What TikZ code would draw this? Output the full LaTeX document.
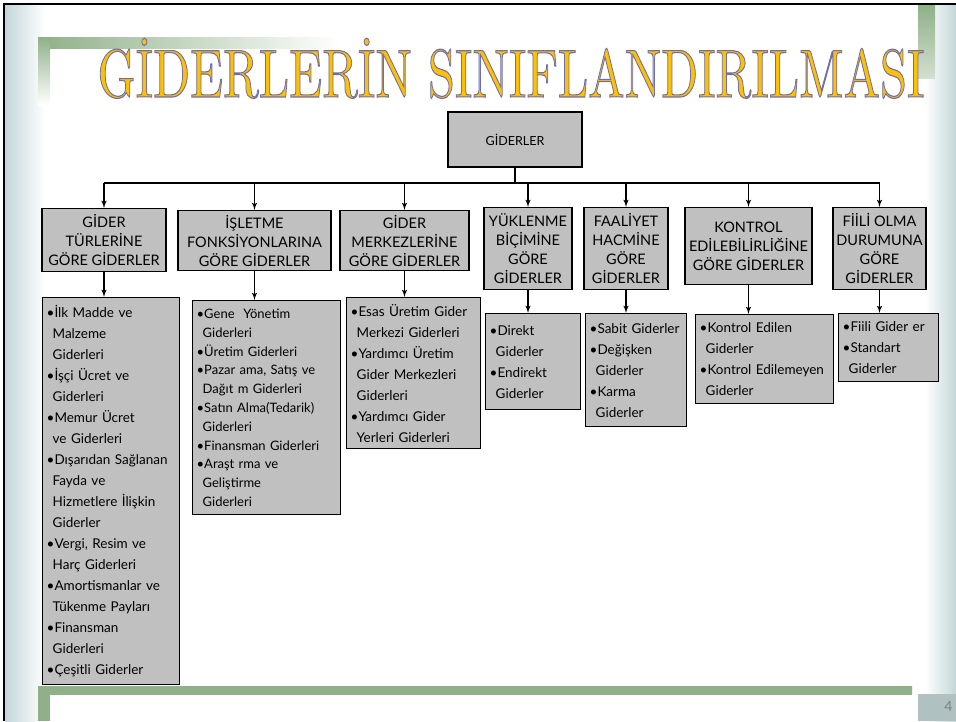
\documentclass[tikz,border=0pt]{standalone}
\usepackage{fontspec}
\setmainfont{Lato}
\newfontfamily\titlefont{lmroman10-regular.otf}
\usetikzlibrary{arrows}
\definecolor{boxgray}{RGB}{192,192,192}
\definecolor{sage}{RGB}{143,176,136}
\definecolor{strip}{RGB}{196,214,216}
\definecolor{titlegold}{RGB}{255,192,0}
\newcommand{\ind}{\hspace*{6pt}}
\newcommand{\titletext}{\resizebox{827pt}{\height}{GİDERLERİN SINIFLANDIRILMASI}}
% fill and stroke the title glyphs
\newcommand{\outlineon}{\special{pdf:literal direct 2 Tr 1.1 w 0.43 0.43 0.67 RG}}
\newcommand{\outlineoff}{\special{pdf:literal direct 0 Tr}}

\begin{document}
\begin{tikzpicture}[x=1pt,y=-1pt]
            \tikzset{box/.style = {shape=rectangle,draw,line width=1.4pt,fill=boxgray,inner sep=2pt}}
            \tikzset{headbox/.style = {box,anchor=north,align=center,font=\fontsize{14.5}{19}\selectfont}}
            \tikzset{listbox/.style = {box,anchor=north west,align=left,inner xsep=4pt,font=\fontsize{13.5}{21}\selectfont}}
            \tikzset{edge/.style = {->,> = latex',line width=1.5pt}}
            \useasboundingbox (0,0) rectangle (956,721);
            % slide template
            \fill[white] (0,0) rectangle (956,721);
            \shade[left color=strip,right color=white] (5,5) rectangle (45,721);
            \shade[left color=white,right color=strip] (925,5) rectangle (956,721);
            \shade[left color=sage,right color=white] (38,37) rectangle (340,48);
            \shade[top color=sage,bottom color=white] (38,37) rectangle (50,105);
            \shade[top color=sage,bottom color=white!60!sage] (918,5) rectangle (935,78);
            \shade[left color=sage,middle color=white!70!sage,right color=sage] (38,686) rectangle (912,694);
            \fill[sage] (38,686) rectangle (50,721);
            \fill[strip!90!black] (918,694) rectangle (956,721);
            \draw[line width=2pt] (4,721) -- (4,4) -- (956,4);
            \node[text=gray,font=\fontsize{14}{14}\selectfont,anchor=east] (pagenum) at (956,706) {4};

            % title
            \node[text=titlegold,anchor=base,inner sep=0pt,font=\titlefont\fontsize{68}{68}\selectfont] (title) at (511,97) {\outlineon\titletext\outlineoff};

            \node[box,minimum width=134pt,minimum height=55pt,font=\fontsize{12.5}{15}\selectfont] (top) at (515,139.5) {GİDERLER};

            \node[headbox,minimum width=124pt,minimum height=63pt] (h1) at (104,208) {GİDER\\TÜRLERİNE\\GÖRE GİDERLER};
            \node[headbox,minimum width=153pt,minimum height=60pt] (h2) at (254.5,210) {İŞLETME\\FONKSİYONLARINA\\GÖRE GİDERLER};
            \node[headbox,minimum width=129pt,minimum height=60pt] (h3) at (404.5,210) {GİDER\\MERKEZLERİNE\\GÖRE GİDERLER};
            \node[headbox,minimum width=88pt,minimum height=82pt] (h4) at (528,207) {YÜKLENME\\BİÇİMİNE\\GÖRE\\GİDERLER};
            \node[headbox,minimum width=84pt,minimum height=82pt] (h5) at (626,207) {FAALİYET\\HACMİNE\\GÖRE\\GİDERLER};
            \node[headbox,minimum width=127pt,minimum height=77pt] (h6) at (748.5,207) {KONTROL\\EDİLEBİLİRLİĞİNE\\GÖRE GİDERLER};
            \node[headbox,minimum width=93pt,minimum height=82pt] (h7) at (879.5,207) {FİİLİ OLMA\\DURUMUNA\\GÖRE\\GİDERLER};

            \node[listbox,text width=129pt,minimum height=387pt] (c1) at (42,297) {•İlk Madde ve\\\ind Malzeme\\\ind Giderleri\\•İşçi Ücret ve\\\ind Giderleri\\•Memur Ücret\\\ind ve Giderleri\\•Dışarıdan Sağlanan\\\ind Fayda ve\\\ind Hizmetlere İlişkin\\\ind Giderler\\•Vergi, Resim ve\\\ind Harç Giderleri\\•Amortismanlar ve\\\ind Tükenme Payları\\•Finansman\\\ind Giderleri\\•Çeşitli Giderler};
            \node[listbox,text width=140pt,minimum height=214pt,font=\fontsize{13}{18.8}\selectfont] (c2) at (192,300) {•Gene\ \ Yönetim\\\ind Giderleri\\•Üretim Giderleri\\•Pazar ama, Satış ve\\\ind Dağıt m Giderleri\\•Satın Alma(Tedarik)\\\ind Giderleri\\•Finansman Giderleri\\•Araşt rma ve\\\ind Geliştirme\\\ind Giderleri};
            \node[listbox,text width=126pt,minimum height=151pt] (c3) at (346,297) {•Esas Üretim Gider\\\ind Merkezi Giderleri\\•Yardımcı Üretim\\\ind Gider Merkezleri\\\ind Giderleri\\•Yardımcı Gider\\\ind Yerleri Giderleri};
            \node[listbox,text width=87pt,minimum height=96pt] (c4) at (485,313) {•Direkt\\\ind Giderler\\•Endirekt\\\ind Giderler};
            \node[listbox,text width=93pt,minimum height=113pt] (c5) at (585,313) {•Sabit Giderler\\•Değişken\\\ind Giderler\\•Karma\\\ind Giderler};
            \node[listbox,text width=130pt,minimum height=89pt] (c6) at (695,314) {•Kontrol Edilen\\\ind Giderler\\•Kontrol Edilemeyen\\\ind Giderler};
            \node[listbox,text width=92pt,minimum height=68pt] (c7) at (838,313) {•Fiili Gider er\\•Standart\\\ind Giderler};

            \coordinate (bus) at (515,183);
            \draw[line width=2pt] (top) to (bus);
            \draw[line width=2pt] (h1.north |- bus) to (h7.north |- bus);
            \foreach \h in {h1,h2,h3,h4,h5,h6,h7}
              \draw[edge] (\h.north |- bus) to (\h);
            \foreach \n in {1,...,7}
              \draw[edge] (h\n) to (h\n.south |- c\n.north);
        \end{tikzpicture}
\end{document}
